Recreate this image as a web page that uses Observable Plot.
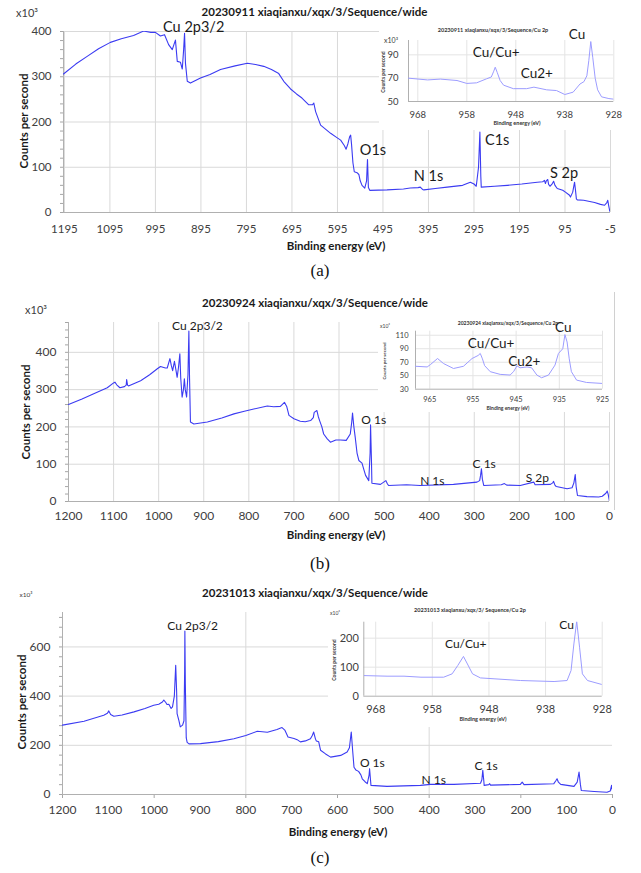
<!DOCTYPE html>
<html>
<head>
<meta charset="utf-8">
<script src="https://cdn.jsdelivr.net/npm/d3@7"></script>
<script src="https://cdn.jsdelivr.net/npm/@observablehq/plot@0.6"></script>
<style>
  html, body { margin: 0; padding: 0; background: #fff; }
  #root { position: relative; width: 641px; height: 873px; overflow: hidden; background: #fff; font-family: Lato, "Open Sans", sans-serif; }
  .abs { position: absolute; }
  .txt { position: absolute; white-space: nowrap; line-height: 1; color: #1a1a1a; }
  .inset { position: absolute; background: #fff; }
</style>
</head>
<body>
<div id="root"></div>
<script>
// ---------------- DATA ----------------
// Survey spectra: [binding energy (eV), counts per second (x10^3)]
const surveyA = [[1197,306],[1170,328],[1145,345],[1120,362],[1094,376],[1070,384],[1043,391],[1021,401],[1005,398],[995,398],[984,390],[975,393],[966,371],[958,360],[954,372],[951,381],[947,334],[940,332],[936,317],[933,360],[931,396],[929,330],[925,290],[918,286],[896,297],[875,305],[852,316],[820,324],[793,330],[775,327],[757,323],[740,316],[724,307],[713,290],[698,273],[685,262],[673,253],[658,238],[650,238],[647,242],[643,223],[632,193],[620,183],[610,175],[597,166],[588,160],[580,148],[576,140],[572,152],[568,168],[566,171],[564,150],[561,110],[558,90],[552,88],[548,84],[545,70],[541,60],[535,54],[531,70],[529,117],[527,55],[524,49],[486,50],[450,52],[435,54],[418,55],[413,56],[408,51],[405,50],[380,53],[354,56],[320,60],[303,67],[295,63],[290,58],[285,100],[282,178],[280,80],[279,56],[250,58],[222,60],[190,63],[156,67],[144,68],[140,71],[138,64],[136,70],[133,73],[131,62],[128,58],[124,62],[120,69],[117,60],[112,53],[100,49],[94,45],[85,38],[83,34],[78,45],[74,67],[72,50],[70,30],[68,28],[54,27],[30,22],[17,18],[8,16],[3,22],[1,27],[-1,15],[-3,5],[-5,0]];
const surveyB = [[1200,260],[1170,275],[1144,289],[1114,305],[1100,318],[1097,320],[1093,313],[1086,305],[1076,308],[1072,312],[1071,327],[1069,312],[1067,310],[1040,324],[1020,340],[1003,356],[996,362],[985,358],[981,358],[975,383],[972,365],[969,351],[965,376],[962,355],[959,333],[956,360],[953,396],[951,330],[948,280],[945,300],[943,329],[941,300],[938,280],[935,340],[933,457],[931.5,330],[929.5,213],[922,208],[892,213],[860,224],[833,235],[810,242],[789,248],[759,256],[745,254],[730,255],[721,266],[716,255],[711,231],[700,222],[686,215],[675,214],[663,217],[657,225],[655,239],[649,244],[646,228],[643,217],[638,200],[634,181],[626,168],[619,159],[607,165],[597,165],[584,164],[575,181],[572,210],[570,237],[567,200],[564,172],[560,130],[556,110],[549,103],[545,86],[541,70],[534,56],[531,130],[530,206],[528,110],[527,49],[508,46],[496,56],[493,48],[490,43],[450,45],[420,43],[346,46],[294,52],[288,56],[286,70],[284,88],[282,60],[279,43],[240,45],[233,48],[228,44],[198,43],[168,52],[165,45],[131,46],[126,50],[124,54],[121,44],[118,40],[94,34],[83,37],[79,50],[76,72],[74,40],[71,16],[50,13],[24,12],[16,14],[8,22],[5,28],[3,20],[0,0]];
const surveyC = [[1200,282],[1153,298],[1110,322],[1102,330],[1099,340],[1095,325],[1088,318],[1070,323],[1044,336],[1020,350],[1001,363],[990,367],[982,376],[979,384],[975,375],[972,366],[968,367],[963,350],[960,356],[956,400],[953,525],[951,420],[950,329],[946,300],[943,275],[938,282],[935,300],[933.5,500],[933,665],[932,450],[930,230],[928,212],[924,206],[899,207],[860,215],[826,227],[800,240],[775,257],[753,253],[732,264],[724,270],[721,272],[715,262],[708,234],[695,228],[688,223],[681,214],[670,218],[659,227],[655,240],[652,254],[648,225],[646,218],[641,214],[637,180],[626,165],[615,152],[593,159],[579,173],[574,190],[570,254],[567,180],[564,111],[560,100],[554,94],[549,80],[546,64],[540,52],[535,44],[531,80],[530,105],[528,60],[527,37],[492,33],[419,37],[397,41],[346,41],[288,46],[285,60],[283,98],[281,60],[280,37],[270,40],[268,44],[266,38],[201,41],[197,50],[193,40],[128,44],[124,55],[121,64],[118,50],[113,41],[84,33],[77,50],[73,91],[70,40],[68,16],[40,12],[12,9],[5,14],[2,37],[0,15]];

// Cu 2p high-resolution insets: [binding energy (eV), counts per second (x10^3)]
const cu2pA = [[969.9,70],[966,68.5],[963.4,69.2],[960,68],[958,65.5],[956,66],[954,69.4],[953,71],[952.5,76],[952.2,79.4],[951.8,75],[951.2,68],[950.5,64],[948.5,61],[945.8,61],[944.3,62.3],[941.7,60],[939.7,59.4],[938,56],[936.3,58],[934.9,65],[934.1,67],[933.5,72],[933.1,85],[932.7,101.4],[932.3,88],[931.8,70],[931.3,60],[930.5,54],[929,52.5],[928,52]];
const cu2pB = [[968.3,64],[965.6,63],[964.8,66.7],[963.2,75.5],[961.8,68],[959.5,60.7],[957.2,64],[955.2,75.5],[953.8,80],[953.3,83],[952.8,75],[952.3,65],[951,56],[948.7,52],[946.4,51],[945.6,56],[944.8,64.7],[944.1,61.7],[942.5,63],[941.4,61.7],[940.2,51],[939.1,47],[937.5,51],[936,65.7],[935.2,83],[934.2,90],[933.7,111],[933.2,100],[932.7,75],[932.2,56],[931,43.5],[928.7,40],[925.2,38.6]];
const cu2pC = [[970,71],[966,69],[963,69],[960,65.5],[956,65.5],[954.5,77],[953.5,106],[952.5,137],[951.8,111],[950.9,77],[949.5,63],[947.1,60],[942.4,54],[936.5,50.6],[934.2,54],[933.5,88.5],[933,180],[932.5,258],[932,169],[931.5,77],[930.6,54],[928,40]];

// Tick values
const xTicksA = [1195,1095,995,895,795,695,595,495,395,295,195,95,-5];
const xTicksBC = [1200,1100,1000,900,800,700,600,500,400,300,200,100,0];
const xGridC = [800,400];
const yTicksA = [0,100,200,300,400];
const yTicksB = [0,100,200,300,400];
const yTicksC = [0,200,400,600];
const insetXTicksA = [968,958,948,938,928];
const insetXTicksB = [965,955,945,935,925];
const insetXTicksC = [968,958,948,938,928];
const insetYTicksA = [50,70,90];
const insetYTicksB = [30,50,70,90,110];
const insetYTicksC = [0,100,200];

// Peak annotations (text, energy, counts)
const peaksA = [["Cu 2p3/2",911,409],["O1s",517,138],["N 1s",395,80],["C1s",244,160],["S 2p",97,87]];
const peaksB = [["Cu 2p3/2",914,469],["O 1s",523,219],["N 1s",393,54],["C 1s",278,99],["S 2p",160,62]];
const peaksC = [["Cu 2p3/2",916,686],["O 1s",524,127],["N 1s",390,57],["C 1s",276,114]];
const insetPeaksA = [["Cu/Cu+",952,92],["Cu2+",943.7,74],["Cu",935.5,107.4]];
const insetPeaksB = [["Cu/Cu+",950.8,97.7],["Cu2+",943.1,71],["Cu",934.1,121.4]];
const insetPeaksC = [["Cu/Cu+",952.1,178],["Cu",934.3,244]];

const titles = ["20230911 xiaqianxu/xqx/3/Sequence/wide","20230924 xiaqianxu/xqx/3/Sequence/wide","20231013 xiaqianxu/xqx/3/Sequence/wide"];
const insetTitles = ["20230911 xiaqianxu/xqx/3/Sequence/Cu 2p","20230924 xiaqianxu/xqx/3/Sequence/Cu 2p","20231013 xiaqianxu/xqx/3/ Sequence/Cu 2p"];
const panelTags = ["(a)","(b)","(c)"];

// ---------------- DRAWING ----------------
const root = document.getElementById("root");
const toRows = arr => arr.map(([e, c]) => ({e, c}));
const toLabels = arr => arr.map(([t, e, c]) => ({t, e, c}));
const range = (a, b, s) => d3.range(a, b + s / 2, s);

function chart(o) {
  const marks = [
    Plot.gridY(o.yGrid, {stroke: o.gridColor, strokeOpacity: 1}),
    Plot.gridX(o.xGrid, {stroke: o.gridColor, strokeOpacity: 1}),
  ];
  if (o.yMinor) marks.push(Plot.axisY(o.yMinor, {tickSize: 3, tickFormat: () => "", color: "#a6a6a6", label: null}));
  if (o.xMinor) marks.push(Plot.axisX(o.xMinor, {tickSize: 4, tickFormat: () => "", color: "#a6a6a6", label: null}));
  marks.push(
    Plot.axisY(o.yTicks, {tickSize: 0, tickPadding: o.yPad, color: "#404040", fontSize: o.tickFont, label: null, tickFormat: d => String(d)}),
    Plot.axisX(o.xTicks, {tickSize: 0, tickPadding: o.xPad, color: "#404040", fontSize: o.tickFont, label: null, tickFormat: d => String(d)}),
    Plot.ruleX([o.xDomain[0]], {stroke: "#b0b0b0"}),
    Plot.ruleY([o.yDomain[0]], {stroke: "#b0b0b0"}),
    Plot.line(toRows(o.data), {x: "e", y: "c", stroke: o.lineColor, strokeWidth: o.lw, clip: true}),
    Plot.text(toLabels(o.labels), {x: "e", y: "c", text: "t", fontSize: o.labelFont, fill: "#1a1a1a"})
  );
  const svg = Plot.plot({
    width: o.width, height: o.height,
    marginTop: o.m[0], marginRight: o.m[1], marginBottom: o.m[2], marginLeft: o.m[3],
    x: {domain: o.xDomain, label: null},
    y: {domain: o.yDomain, label: null},
    style: {fontFamily: "Lato, 'Open Sans', sans-serif", background: "transparent", overflow: "visible", color: "#404040"},
    marks
  });
  return svg;
}

function place(el, left, top, cls) {
  const wrap = document.createElement("div");
  wrap.className = cls || "abs";
  wrap.style.left = left + "px";
  wrap.style.top = top + "px";
  wrap.appendChild(el);
  root.appendChild(wrap);
  return wrap;
}

function text(str, x, y, css, rotate) {
  const d = document.createElement("div");
  d.className = "txt";
  d.textContent = str;
  d.style.left = x + "px";
  d.style.top = y + "px";
  d.style.transform = "translate(-50%,-50%)" + (rotate ? " rotate(-90deg)" : "");
  d.style.cssText += css || "";
  root.appendChild(d);
  return d;
}

const MAIN = "#3b3bf2";
const INSET = "#9c9cff";
const GRID = "#d9d9d9";

// ----- Panel (a)
place(chart({
  data: surveyA, labels: peaksA, width: 641, height: 240, m: [31, 31, 28, 63],
  xDomain: [1197, -5], yDomain: [0, 400],
  xTicks: xTicksA, yTicks: yTicksA, xGrid: xTicksA, yGrid: yTicksA.slice(1),
  yMinor: range(0, 400, 20), tickFont: 11.5, yPad: 12, xPad: 12,
  lineColor: MAIN, lw: 1.1, labelFont: 14.5, gridColor: GRID
}), 0, 0);

const boxA = place(chart({
  data: cu2pA, labels: insetPeaksA, width: 246, height: 106, m: [16, 11.7, 29, 29],
  xDomain: [969.9, 928], yDomain: [50, 102.3],
  xTicks: insetXTicksA, yTicks: insetYTicksA, xGrid: insetXTicksA, yGrid: [70, 90],
  tickFont: 9.5, yPad: 10, xPad: 10,
  lineColor: INSET, lw: 1, labelFont: 13.5, gridColor: "#e4e4e4"
}), 379, 24, "inset");

// ----- Panel (b)
place(chart({
  data: surveyB, labels: peaksB, width: 641, height: 235, m: [32, 32, 24, 68],
  xDomain: [1200, 0], yDomain: [0, 480],
  xTicks: xTicksBC, yTicks: yTicksB, xGrid: xTicksBC, yGrid: yTicksB.slice(1),
  yMinor: range(0, 480, 20), tickFont: 12, yPad: 12, xPad: 10,
  lineColor: MAIN, lw: 1.1, labelFont: 12, gridColor: GRID
}), 0, 290);
const borderB = document.createElement("div");
borderB.style.cssText = "position:absolute;left:614px;top:292px;width:0;height:218px;border-left:1px solid #d0d0d0;";
root.appendChild(borderB);

place(chart({
  data: cu2pB, labels: insetPeaksB, width: 234, height: 96, m: [14.7, 10, 23.3, 37],
  xDomain: [968.3, 925], yDomain: [30, 116],
  xTicks: insetXTicksB, yTicks: insetYTicksB, xGrid: insetXTicksB, yGrid: [50, 70, 90, 110],
  tickFont: 7.5, yPad: 7, xPad: 7,
  lineColor: INSET, lw: 1, labelFont: 13.5, gridColor: "#e4e4e4"
}), 378, 316, "inset");

// ----- Panel (c)
place(chart({
  data: surveyC, labels: peaksC, width: 641, height: 225, m: [12, 29, 31, 62],
  xDomain: [1200, 0], yDomain: [0, 740],
  xTicks: xTicksBC, yTicks: yTicksC, xGrid: xGridC, yGrid: yTicksC.slice(1),
  yMinor: range(0, 720, 40), xMinor: range(0, 1200, 200), tickFont: 12, yPad: 12, xPad: 11,
  lineColor: MAIN, lw: 1.1, labelFont: 12, gridColor: GRID
}), 0, 600);

place(chart({
  data: cu2pC, labels: insetPeaksC, width: 286, height: 124, m: [18.7, 12.3, 31.3, 35.3],
  xDomain: [970.1, 928], yDomain: [0, 255],
  xTicks: insetXTicksC, yTicks: insetYTicksC, xGrid: insetXTicksC, yGrid: [100, 200],
  tickFont: 11, yPad: 5, xPad: 9,
  lineColor: INSET, lw: 1, labelFont: 12, gridColor: "#e4e4e4"
}), 328, 603, "inset");

// ----- Titles & labels (HTML text)
const boldT = "font-weight:700;font-size:11.5px;color:#1a1a1a;";
const axisT = "font-weight:700;font-size:11.5px;color:#1a1a1a;";
const tagT = "font-family:'Liberation Serif','DejaVu Serif',serif;font-size:17px;color:#111;";

text(titles[0], 314.5, 12, boldT);
text("x10³", 27, 12, "font-size:11px;color:#404040;");
text("Counts per second", 24, 121, axisT, true);
text("Binding energy (eV)", 336, 246, axisT);
text(panelTags[0], 320, 270, tagT);

text(insetTitles[0], 493, 31, "font-weight:700;font-size:5.5px;color:#333;");
text("x10³", 391, 40, "font-size:7px;color:#404040;");
text("Binding energy (eV)", 517, 124, "font-weight:700;font-size:5.5px;color:#333;");
text("Counts per second", 383, 72, "font-weight:700;font-size:5px;color:#333;", true);

text(titles[1], 315, 303, boldT);
text("x10³", 36, 309, "font-size:11px;color:#404040;");
text("Counts per second", 26, 412, axisT, true);
text("Binding energy (eV)", 336, 535, axisT);
text(panelTags[1], 320, 563, tagT);

text(insetTitles[1], 508, 323, "font-weight:700;font-size:5px;color:#333;");
text("x10³", 385, 326, "font-size:5px;color:#404040;");
text("Binding energy (eV)", 508, 408, "font-weight:700;font-size:5px;color:#333;");
text("Counts per second", 385, 361, "font-weight:700;font-size:4.5px;color:#333;", true);

text(titles[2], 315, 593, boldT);
text("x10³", 26, 595, "font-size:6.5px;color:#404040;");
text("Counts per second", 22, 702, axisT, true);
text("Binding energy (eV)", 338, 832, axisT);
text(panelTags[2], 320, 857, tagT);

text(insetTitles[2], 470, 611, "font-weight:700;font-size:5.5px;color:#333;");
text("x10³", 335, 613, "font-size:5px;color:#404040;");
text("Binding energy (eV)", 483, 720, "font-weight:700;font-size:5.5px;color:#333;");
text("Counts per second", 334, 660, "font-weight:700;font-size:5px;color:#333;", true);
</script>
</body>
</html>
